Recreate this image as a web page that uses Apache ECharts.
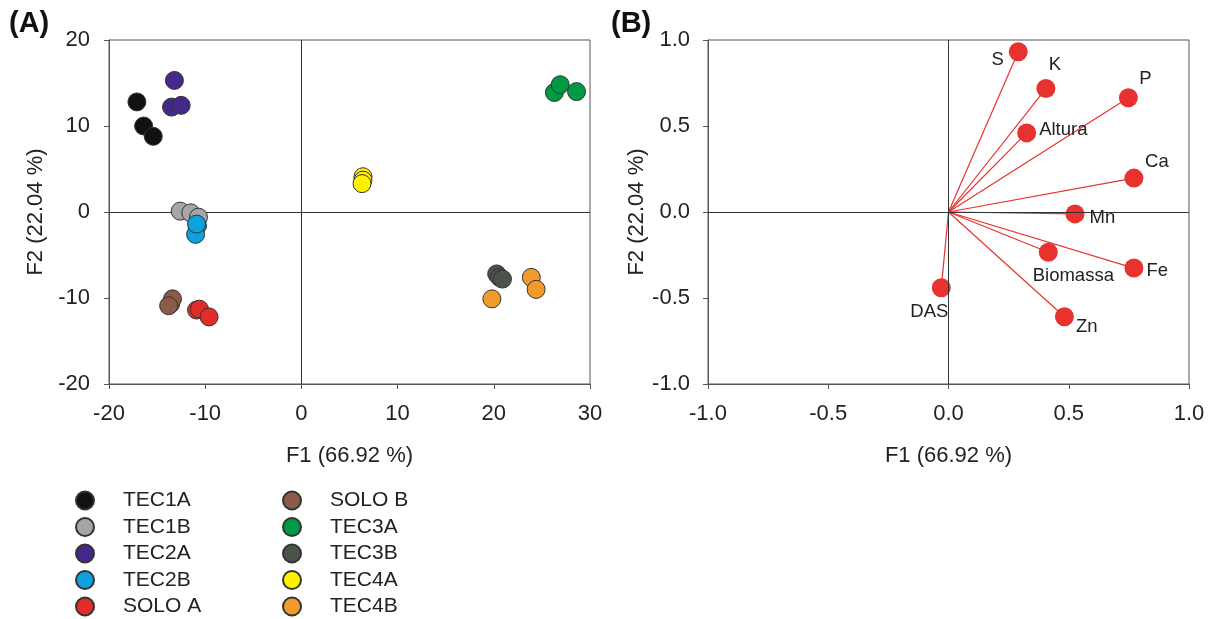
<!DOCTYPE html>
<html>
<head>
<meta charset="utf-8">
<script src="https://cdn.jsdelivr.net/npm/echarts@6/dist/echarts.min.js"></script>
<style>html,body{margin:0;padding:0;background:#fff}#c{width:1213px;height:619px}</style>
</head>
<body>
<div id="c"></div>
<script>
// ---- Data: PCA scores (panel A) ----
var groupNames = ['TEC1A','TEC1B','TEC2A','TEC2B','SOLO A','SOLO B','TEC3A','TEC3B','TEC4A','TEC4B'];
var groupColors = ['#111111','#a6a6a6','#44298a','#0ea1e0','#e42b2b','#8c5a4a','#009a44','#4b5449','#ffef00','#f39a2d'];
var tec1a = [[-17.1,12.8],[-16.4,10.0],[-15.4,8.8]];
var tec1b = [[-12.6,0.1],[-11.5,-0.1],[-10.7,-0.6]];
var tec2a = [[-13.2,15.3],[-13.5,12.2],[-12.5,12.4]];
var tec2b = [[-10.8,-1.6],[-11.0,-2.6],[-10.9,-1.4]];
var soloA = [[-10.9,-11.4],[-10.6,-11.3],[-9.6,-12.2]];
var soloB = [[-13.6,-10.7],[-13.4,-10.1],[-13.8,-10.9]];
var tec3a = [[26.3,13.9],[26.9,14.8],[28.6,14.0]];
var tec3b = [[20.3,-7.2],[20.6,-7.6],[20.9,-7.8]];
var tec4a = [[6.4,4.1],[6.4,3.7],[6.3,3.3]];
var tec4b = [[23.9,-7.6],[24.4,-9.0],[19.8,-10.1]];
var groupData = [tec1a,tec1b,tec2a,tec2b,soloA,soloB,tec3a,tec3b,tec4a,tec4b];

// ---- Data: loadings (panel B) ----
var loadingNames = ['S','K','P','Altura','Ca','Mn','Biomassa','Fe','Zn','DAS'];
var loadingF1 = [0.29,0.405,0.748,0.325,0.771,0.526,0.415,0.771,0.482,-0.03];
var loadingF2 = [0.932,0.718,0.664,0.46,0.197,-0.011,-0.234,-0.326,-0.609,-0.44];

// label placement (style only)
var labelPos = {
  'S':{position:'left',offset:[0,8]},
  'K':{position:'top',offset:[9,0]},
  'P':{position:'top',offset:[17,5]},
  'Altura':{position:'right',offset:[-2,-3]},
  'Ca':{position:'top',offset:[23,8]},
  'Mn':{position:'right',offset:[0,4]},
  'Biomassa':{position:'bottom',offset:[25,0]},
  'Fe':{position:'right',offset:[-2,3]},
  'Zn':{position:'right',offset:[-3,10]},
  'DAS':{position:'bottom',offset:[-12,0]}
};

var FONT = '"Liberation Sans", Arial, sans-serif';
var TXT = '#222';
var AX = '#555';

function mkAxis(type, min, max, interval, gridIndex, name, nameGap, fmt, margin){
  return {
    type:'value', gridIndex:gridIndex, min:min, max:max, interval:interval,
    name:name, nameLocation:'middle', nameGap:nameGap,
    nameTextStyle:{fontFamily:FONT, fontSize:22, color:TXT},
    axisLine:{show:true, onZero:false, lineStyle:{color:AX, width:1}},
    axisTick:{show:true, inside:false, length:5, lineStyle:{color:AX}},
    axisLabel:{fontFamily:FONT, fontSize:22, color:TXT, margin:margin, formatter:fmt},
    splitLine:{show:false}
  };
}
var fmtInt = function(v){return String(v);};
var fmt1 = function(v){return v.toFixed(1);};

var series = [];
groupNames.forEach(function(n,i){
  var s = {
    type:'scatter', name:n, xAxisIndex:0, yAxisIndex:0,
    data:groupData[i], symbol:'circle', symbolSize:18,
    itemStyle:{color:groupColors[i], borderColor:'#333', borderWidth:1, opacity:1},
    z:3
  };
  if(i===0){
    s.markLine = {
      silent:true, symbol:['none','none'], label:{show:false},
      lineStyle:{color:'#333', width:1, type:'solid'},
      data:[{xAxis:0},{yAxis:0}], z:1
    };
  }
  series.push(s);
});

// vector lines panel B
series.push({
  type:'lines', coordinateSystem:'cartesian2d', xAxisIndex:1, yAxisIndex:1,
  data: loadingNames.map(function(n,i){return {coords:[[0,0],[loadingF1[i],loadingF2[i]]]};}),
  lineStyle:{color:'#e8322f', width:1.2, opacity:1},
  silent:true, z:2,
  markLine:{
    silent:true, symbol:['none','none'], label:{show:false},
    lineStyle:{color:'#333', width:1, type:'solid'},
    data:[{xAxis:0},{yAxis:0}]
  }
});
series.push({
  type:'scatter', name:'loadings', xAxisIndex:1, yAxisIndex:1,
  symbol:'circle', symbolSize:19,
  itemStyle:{color:'#e8322f', opacity:1},
  z:3,
  data: loadingNames.map(function(n,i){
    var lp = labelPos[n];
    return {value:[loadingF1[i],loadingF2[i]], name:n,
      label:{show:true, formatter:n, position:lp.position, offset:lp.offset, distance:5,
        fontFamily:FONT, fontSize:18.5, color:TXT}};
  })
});

var legendBase = {orient:'vertical', top:485, height:140, itemWidth:66, itemHeight:18, itemGap:5.5,
  icon:'circle', textStyle:{fontFamily:FONT, fontSize:21, color:TXT, lineHeight:18}, selectedMode:false};

var option = {
  animation:false,
  backgroundColor:'#fff',
  textStyle:{fontFamily:FONT},
  title:[
    {text:'(A)', left:4, top:4, textStyle:{fontFamily:FONT, fontSize:29, fontWeight:'bold', color:'#111'}},
    {text:'(B)', left:606, top:4, textStyle:{fontFamily:FONT, fontSize:29, fontWeight:'bold', color:'#111'}}
  ],
  grid:[
    {left:109, top:40, width:481, height:344, show:true, borderColor:AX, borderWidth:1, backgroundColor:'transparent'},
    {left:708, top:40, width:481, height:344, show:true, borderColor:AX, borderWidth:1, backgroundColor:'transparent'}
  ],
  xAxis:[
    mkAxis('x',-20,30,10,0,'F1 (66.92 %)',61,fmtInt,19),
    mkAxis('x',-1,1,0.5,1,'F1 (66.92 %)',61,fmt1,19)
  ],
  yAxis:[
    mkAxis('y',-20,20,10,0,'F2 (22.04 %)',62,fmtInt,19),
    mkAxis('y',-1,1,0.5,1,'F2 (22.04 %)',56,fmt1,18)
  ],
  legend:[
    Object.assign({}, legendBase, {data:groupNames.slice(0,5), left:70}),
    Object.assign({}, legendBase, {data:groupNames.slice(5), left:277})
  ],
  series:series
};
var chart = echarts.init(document.getElementById('c'), null, {renderer:'canvas'});
chart.setOption(option);
</script>
</body>
</html>
